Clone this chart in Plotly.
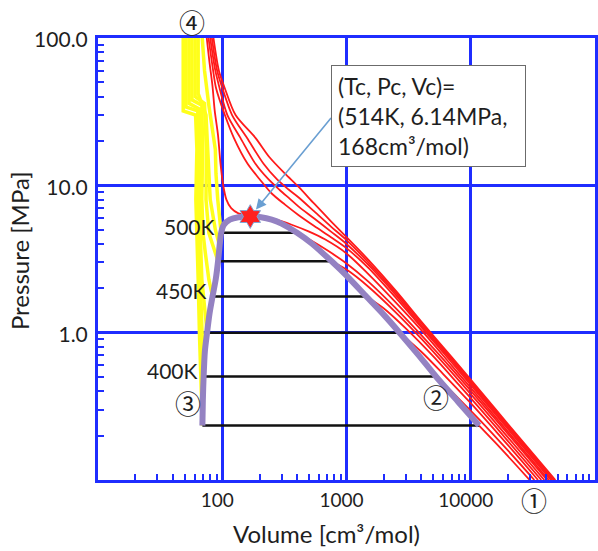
import math
import plotly.graph_objects as go

# ---------------- data (V in cm3/mol, P in MPa) ----------------
# tie lines of the two-phase region
T_SAT = [375, 400, 425, 450, 475, 500]           # K
P_SAT = [0.234, 0.504, 1.0, 1.76, 3.05, 4.76]    # MPa
V_LIQ = [69.2, 70.8, 75.5, 83.5, 92.5, 98.0]     # saturated liquid
V_VAP = [11670, 5248, 2673, 1445, 759, 400]      # saturated vapour
LABELED_T = [400, 450, 500]

# coexistence curve (liquid branch -> critical point -> vapour branch)
DOME_V = [69.2, 69.8, 70.8, 72.5, 75.5, 79, 83.5, 88.6, 92.5, 95.5, 98, 103, 115, 135, 168,
          205, 250, 300, 400, 525, 759, 1000, 1445, 2000, 2673, 3800, 5248, 8000, 11670]
DOME_P = [0.234, 0.35, 0.504, 0.75, 1.0, 1.35, 1.76, 2.3, 3.05, 4.0, 4.76, 5.4, 5.85, 6.08, 6.14,
          6.08, 5.85, 5.5, 4.76, 4.03, 3.05, 2.44, 1.76, 1.32, 1.0, 0.704, 0.504, 0.336, 0.234]

# critical point
TC, PC, VC = 514, 6.14, 168

# isotherms at and above Tc
S514_V = [75, 79, 83.5, 87, 92.4, 97, 102, 108, 118, 135, 168, 210, 280, 362, 500, 670, 1000,
          1500, 2500, 4000, 7000, 12000, 20000, 42500]
S514_P = [100, 68, 47, 32, 22, 13.8, 9.9, 8.0, 7.0, 6.45, 6.2, 6.1, 5.8, 5.4, 4.85, 4.3, 3.45,
          2.5, 1.6, 1.04, 0.6, 0.353, 0.212, 0.1]
S530_V = [77.5, 84, 89, 105, 124, 160, 200, 250, 320, 410, 550, 750, 1000, 1500, 2500, 4000,
          7000, 12000, 20000, 44200]
S530_P = [100, 62, 46, 30, 21, 14, 11, 8.8, 7.4, 6.3, 5.3, 4.45, 3.75, 2.75, 1.72, 1.09,
          0.63, 0.368, 0.221, 0.1]
S545_V = [80, 88, 95, 110, 140, 185, 235, 290, 350, 410, 550, 750, 1000, 1500, 2500, 4000,
          7000, 12000, 20000, 45400]
S545_P = [100, 60, 46, 30, 21, 14, 11, 9.3, 8.1, 7.2, 5.95, 4.85, 4.0, 2.88, 1.8, 1.12,
          0.65, 0.378, 0.227, 0.1]
S560_V = [82.5, 91, 100, 120, 158, 215, 275, 340, 410, 550, 750, 1000, 1500, 2500, 4000,
          7000, 12000, 20000, 46700]
S560_P = [100, 60, 46, 30, 21, 14, 11, 9.4, 8.3, 6.65, 5.25, 4.25, 3.0, 1.86, 1.16,
          0.667, 0.389, 0.233, 0.1]
S575_V = [85, 94, 104.5, 128, 185, 240, 320, 410, 550, 750, 1000, 1500, 2500, 4000, 7000,
          12000, 20000, 48000]
S575_P = [100, 60, 46, 30, 21, 15.5, 12, 9.8, 7.5, 5.7, 4.45, 3.12, 1.92, 1.19, 0.685,
          0.4, 0.239, 0.1]

# vapour branches of the subcritical isotherms
G500_V = [400, 500, 700, 1000, 1500, 2500, 4000, 7000, 12000, 20000, 41150]
G500_P = [4.76, 4.3, 3.62, 2.95, 2.22, 1.46, 0.961, 0.57, 0.338, 0.205, 0.1]
G475_V = [759, 1000, 1500, 2500, 4000, 7000, 12000, 20000, 39100]
G475_P = [3.05, 2.68, 2.05, 1.37, 0.91, 0.539, 0.321, 0.194, 0.1]
G450_V = [1445, 2000, 3000, 5000, 8000, 12000, 20000, 37000]
G450_P = [1.76, 1.46, 1.07, 0.69, 0.444, 0.302, 0.183, 0.1]
G425_V = [2673, 4000, 6000, 10000, 16000, 25000, 34800]
G425_P = [1.0, 0.742, 0.524, 0.332, 0.213, 0.1385, 0.1]
G400_V = [5248, 8000, 12000, 20000, 32500]
G400_P = [0.504, 0.357, 0.252, 0.158, 0.1]
G375_V = [11670, 16000, 22000, 29800]
G375_P = [0.234, 0.177, 0.1325, 0.1]

# liquid branches of the subcritical isotherms
L375_V = [69.2, 67, 65.5, 64, 62, 61.3, 62.5, 61, 48.5, 48.5]
L375_P = [0.234, 0.5, 1, 2.3, 4.75, 8, 17.5, 30, 32, 100]
L400_V = [70.8, 68.5, 66.5, 64.5, 63.5, 64.5, 63.5, 51, 51]
L400_P = [0.504, 1, 2.3, 4.75, 8, 17.5, 32, 34, 100]
L425_V = [75.5, 71, 68.5, 66.5, 65.5, 66.5, 65.5, 54, 54]
L425_P = [1.0, 1.6, 2.3, 4.75, 8, 17.5, 33, 36, 100]
L450_V = [83.5, 78, 73, 70, 68.5, 69.5, 68.5, 57, 57]
L450_P = [1.76, 2.3, 3.5, 4.75, 8, 17.5, 35, 38, 100]
L475_V = [92.5, 85, 78, 74, 74.5, 72, 60.5, 60.5]
L475_P = [3.05, 3.8, 4.75, 8, 17.5, 36, 40, 100]
L488_V = [95, 88, 80, 76.5, 74, 64, 64]
L488_P = [3.9, 5, 8, 17.5, 30, 42, 100]
L500_V = [98, 95, 92, 89, 88, 78, 72, 69]
L500_P = [4.76, 6, 8, 12, 17.5, 35, 60, 100]

# axis ticks
X_TICKS = [100, 1000, 10000]
Y_TICKS = [1, 10, 100]
Y_TICKTEXT = ["1.0", "10.0", "100.0"]

# ---------------- styling ----------------
BLUE = "#1f2dff"
RED = "#ff1a1a"
YELLOW = "#ffff1a"
PURPLE = "#9482c2"
TXT = "#1e1e1e"
FONT = "Lato"

fig = go.Figure()

liquid = [(L375_V, L375_P), (L400_V, L400_P), (L425_V, L425_P), (L450_V, L450_P),
          (L475_V, L475_P), (L488_V, L488_P), (L500_V, L500_P)]
for v, p in liquid:
    fig.add_trace(go.Scatter(x=v, y=p, mode="lines",
                             line=dict(color=YELLOW, width=3.5), hoverinfo="skip"))

red_curves = [(S514_V, S514_P), (S530_V, S530_P), (S545_V, S545_P), (S560_V, S560_P),
              (S575_V, S575_P), (G500_V, G500_P), (G475_V, G475_P), (G450_V, G450_P),
              (G425_V, G425_P), (G400_V, G400_P), (G375_V, G375_P)]
for v, p in red_curves:
    fig.add_trace(go.Scatter(x=v, y=p, mode="lines",
                             line=dict(color=RED, width=1.8, shape="spline", smoothing=0.8),
                             hoverinfo="skip"))

# horizontal tie lines
for vl, vv, ps in zip(V_LIQ, V_VAP, P_SAT):
    fig.add_trace(go.Scatter(x=[vl, vv], y=[ps, ps], mode="lines",
                             line=dict(color="#111111", width=2.5), hoverinfo="skip"))

# coexistence curve
fig.add_trace(go.Scatter(x=DOME_V, y=DOME_P, mode="lines",
                         line=dict(color=PURPLE, width=6, shape="spline", smoothing=0.8),
                         hoverinfo="skip"))

# critical point
fig.add_trace(go.Scatter(x=[VC], y=[PC], mode="markers",
                         marker=dict(symbol="hexagram", size=18, color="#ff2020",
                                     line=dict(color="#7fa8d8", width=1)),
                         hoverinfo="skip"))

lg = math.log10
annotations = []

# temperature labels on the tie lines
for t, vl, ps in zip(T_SAT, V_LIQ, P_SAT):
    if t in LABELED_T:
        annotations.append(dict(x=lg(vl), y=lg(ps), xref="x", yref="y", text=f"{t}K",
                                showarrow=False, xanchor="right", yanchor="middle",
                                xshift=-4, yshift=6, font=dict(family=FONT, size=21, color=TXT)))

# critical point callout
annotations.append(dict(x=lg(VC), y=lg(PC), xref="x", yref="y", text="",
                        showarrow=True, ax=82, ay=-100, axref="pixel", ayref="pixel",
                        arrowhead=2, arrowsize=1.3, arrowwidth=1.6, arrowcolor="#6a9fd2",
                        standoff=9))
annotations.append(dict(x=0.468, y=0.94, xref="paper", yref="paper",
                        text="(Tc, Pc, Vc)=<br>(514K, 6.14MPa,<br>168cm³/mol)",
                        showarrow=False, xanchor="left", yanchor="top", align="left",
                        bgcolor="white", bordercolor="#6b6b6b", borderwidth=1, borderpad=6,
                        width=181, font=dict(family=FONT, size=23, color=TXT)))

# state markers
CIRCLED = [("①", 0.878, -0.043), ("②", 0.68, 0.188), ("③", 0.182, 0.176), ("④", 0.19, 1.037)]
for ch, xp, yp in CIRCLED:
    annotations.append(dict(x=xp, y=yp, xref="paper", yref="paper", text=ch, showarrow=False,
                            xanchor="center", yanchor="middle",
                            font=dict(family="Noto Sans CJK JP", size=26, color=TXT)))

# axis titles
annotations.append(dict(x=0.46, y=-0.12, xref="paper", yref="paper",
                        text="Volume [cm³/mol)", showarrow=False,
                        xanchor="center", yanchor="middle",
                        font=dict(family=FONT, size=24, color=TXT)))
annotations.append(dict(x=-0.158, y=0.519, xref="paper", yref="paper",
                        text="Pressure [MPa]", showarrow=False, textangle=-90,
                        xanchor="center", yanchor="middle",
                        font=dict(family=FONT, size=24, color=TXT)))

x_minor = [m * 10 ** e for e in range(1, 5) for m in range(2, 10)]
y_minor = [m * 10.0 ** e for e in range(-1, 2) for m in range(2, 10)]

fig.update_xaxes(type="log", range=[1, 5], tickvals=X_TICKS, ticktext=[str(v) for v in X_TICKS],
                 ticks="", showgrid=True, gridcolor=BLUE, gridwidth=3,
                 showline=True, linecolor=BLUE, linewidth=3, mirror=True, zeroline=False,
                 tickfont=dict(family=FONT, size=19, color=TXT), ticklabelstandoff=1,
                 ticklabelshift=-5,
                 minor=dict(tickvals=x_minor, ticks="inside", ticklen=6, tickwidth=2,
                            tickcolor=BLUE, showgrid=False))
fig.update_yaxes(type="log", range=[-1, 2], tickvals=Y_TICKS, ticktext=Y_TICKTEXT,
                 ticks="", showgrid=True, gridcolor=BLUE, gridwidth=3,
                 showline=True, linecolor=BLUE, linewidth=3, mirror=True, zeroline=False,
                 tickfont=dict(family=FONT, size=21, color=TXT), ticklabelstandoff=3,
                 ticklabelshift=2,
                 minor=dict(tickvals=y_minor, ticks="inside", ticklen=6, tickwidth=2,
                            tickcolor=BLUE, showgrid=False))

fig.update_layout(width=598, height=551, margin=dict(l=98, r=0, t=38, b=71),
                  paper_bgcolor="white", plot_bgcolor="white", showlegend=False,
                  annotations=annotations)

fig.write_html("out.html")
